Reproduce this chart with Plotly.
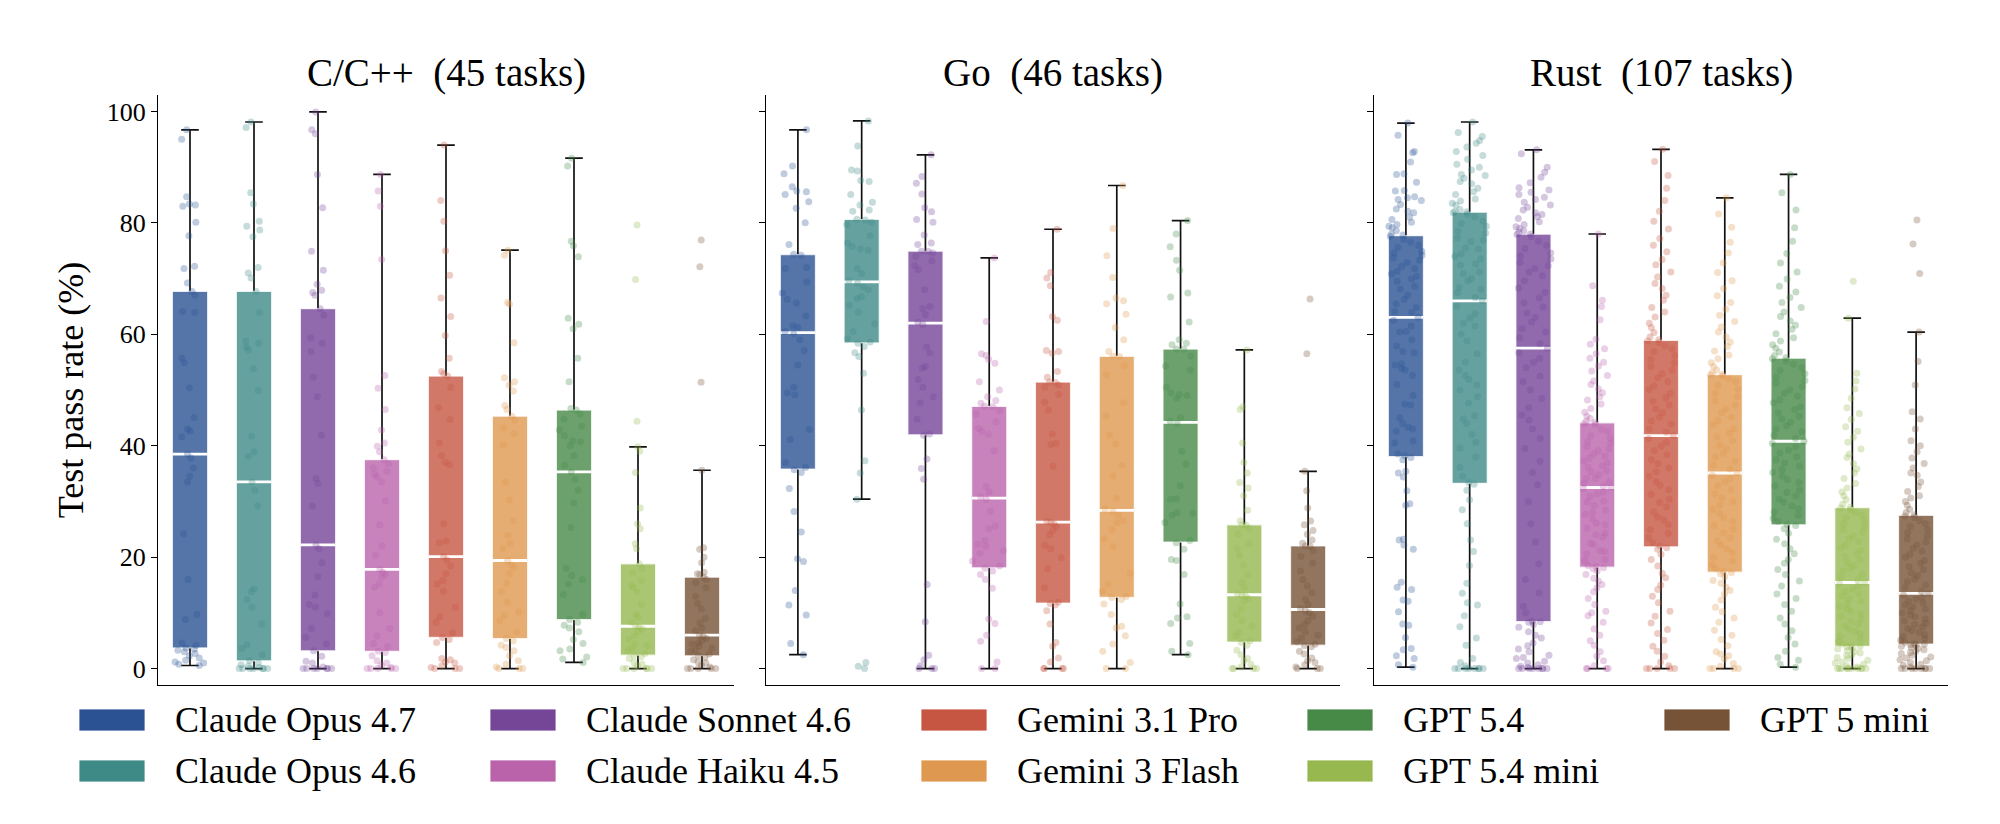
import numpy as np
import plotly.graph_objects as go

# ---------------- data ----------------
models = ["Claude Opus 4.7", "Claude Opus 4.6", "Claude Sonnet 4.6", "Claude Haiku 4.5",
          "Gemini 3.1 Pro", "Gemini 3 Flash", "GPT 5.4", "GPT 5.4 mini", "GPT 5 mini"]
colors = ["#2B5393", "#3E8A87", "#754598", "#BA63AB", "#C65642",
          "#DE984F", "#478A48", "#96B84F", "#765337"]
languages = ["C/C++", "Go", "Rust"]
task_counts = [45, 46, 107]
y_ticks = [0, 20, 40, 60, 80, 100]

# per-task test pass rates (%), C/C++ (45 tasks)
cpp_opus47 = [0.55, 0.8, 1.0, 1.2, 1.5, 1.9, 2.3, 2.7, 3.0, 3.3, 3.5, 3.7,
              4.2, 4.6, 8.8, 9.7, 16.0, 24.2, 33.5, 34.5, 36.0, 37.8, 38.5,
              41.6, 42.6, 43.0, 45.0, 50.4, 54.9, 55.7, 63.9, 64.1, 67.0, 67.7,
              69.2, 71.8, 72.2, 77.7, 80.1, 83.0, 83.2, 83.4, 84.7, 95.0, 96.7]
cpp_opus46 = [0, 0, 0, 0, 0, 0, 0, 0.2, 0.4, 0.7, 1.0, 1.4,
              2.5, 3.6, 4.3, 8.0, 11.0, 12.4, 13.8, 14.3, 29.2, 32.0, 33.5,
              38.1, 38.9, 41.7, 49.9, 53.8, 57.2, 57.7, 58.4, 58.8, 63.9, 67.7,
              70.1, 71.0, 72.0, 77.5, 78.7, 79.4, 80.3, 83.4, 85.4, 97.1, 98.1]
cpp_sonnet46 = [0, 0, 0, 0, 0, 0, 0, 0.3, 1.0, 1.3, 2.2, 3.2,
                4.4, 5.6, 7.2, 9.9, 11.0, 11.5, 13.2, 16.5, 19.0, 21.5, 22.2,
                29.2, 33.2, 34.1, 41.9, 48.8, 52.3, 56.9, 58.4, 59.4, 63.4, 64.6,
                67.0, 67.5, 67.9, 69.0, 71.5, 74.9, 82.7, 88.7, 96.0, 96.7, 99.9]
cpp_haiku45 = [0, 0, 0, 0, 0, 0.2, 0.6, 1.0, 1.4, 2.3, 2.9, 3.1,
               4.0, 4.5, 5.9, 7.2, 10.0, 14.6, 15.2, 16.4, 16.9, 17.3, 17.8,
               20.3, 22.0, 25.8, 30.1, 33.5, 34.4, 34.9, 35.4, 36.0, 36.8, 37.5,
               38.9, 39.9, 40.5, 42.8, 46.5, 50.3, 52.6, 73.4, 83.0, 85.7, 88.7]
cpp_gem31pro = [0, 0, 0, 0.2, 0.5, 1.0, 1.2, 1.6, 1.8, 4.7, 5.2, 5.6,
                6.4, 8.3, 9.3, 11.0, 13.9, 15.2, 15.8, 17.0, 18.4, 19.5, 20.1,
                22.6, 22.9, 26.0, 36.6, 37.0, 38.2, 40.5, 44.7, 46.8, 50.5, 52.5,
                52.9, 53.3, 55.7, 59.8, 63.2, 66.5, 70.6, 75.0, 80.3, 84.0, 93.95]
cpp_gem3flash = [0, 0, 0, 0.3, 0.8, 1.4, 2.3, 3.2, 3.8, 4.2, 5.0, 5.4,
                 6.6, 8.6, 9.5, 10.1, 12.0, 13.8, 15.3, 17.0, 18.2, 18.6, 19.4,
                 21.5, 22.4, 23.9, 26.6, 30.3, 33.5, 40.1, 42.2, 43.2, 44.6, 45.3,
                 46.5, 47.2, 49.8, 50.9, 51.5, 52.2, 58.5, 65.4, 65.7, 74.2, 75.1]
cpp_gpt54 = [1.1, 1.7, 2.1, 3.2, 3.5, 4.5, 5.2, 6.6, 7.3, 7.8, 8.3, 8.8,
             9.7, 13.3, 15.2, 16.0, 16.7, 18.0, 25.3, 29.7, 32.0, 34.0, 35.3,
             36.5, 38.2, 40.0, 40.7, 40.9, 41.8, 42.8, 43.5, 44.8, 45.7, 46.4,
             46.7, 51.5, 55.7, 61.0, 61.8, 62.9, 73.9, 75.9, 76.7, 90.2, 91.6]
cpp_gpt54mini = [0, 0, 0, 0, 0, 0, 0.5, 0.8, 1.2, 1.8, 2.1, 2.4,
                 2.7, 3.2, 3.8, 4.1, 4.4, 5.2, 5.9, 6.6, 7.1, 7.4, 7.6,
                 8.3, 9.3, 9.7, 11.5, 13.8, 14.5, 15.0, 15.8, 17.2, 17.9, 18.8,
                 21.5, 22.4, 25.1, 26.0, 28.8, 35.2, 39.0, 39.8, 44.4, 69.85, 79.6]
cpp_gpt5mini = [0, 0, 0, 0, 0, 0.3, 0.6, 1.0, 1.2, 1.6, 2.0, 2.3,
                2.6, 3.0, 3.3, 3.7, 4.0, 4.4, 4.6, 5.0, 5.4, 5.8, 6.0,
                6.8, 7.3, 8.2, 9.0, 10.7, 11.7, 13.0, 14.5, 15.4, 16.0, 16.4,
                16.9, 17.0, 17.3, 19.0, 20.0, 21.4, 21.7, 35.6, 51.4, 72.1, 76.9]

# Go (46 tasks)
go_opus47 = [2.5, 4.5, 9.6, 11.4, 14.0, 19.2, 19.7, 24.5, 28.2, 32.3, 35.2,
             35.7, 36.1,
             37.0, 41.1, 42.9, 49.1, 49.5, 50.5, 54.5, 57.1, 59.0,
             60.1, 60.5,
             61.2, 61.5, 63.3, 65.6, 66.3, 67.4, 69.4, 71.8, 72.0,
             74.2, 74.35,
             76.1, 80.0, 82.6, 83.8, 85.1, 85.6, 85.7, 86.5, 88.8, 90.2, 96.7]
go_opus46 = [0, 0.4, 1.1, 30.4, 35.1, 37.3, 46.4, 53.0, 56.0, 56.7, 57.8,
             58.4, 58.6,
             59.2, 60.5, 61.9, 64.0, 65.2, 66.4, 66.8, 68.0, 68.5,
             69.2, 69.6,
             70.9, 71.8, 75.1, 75.3, 75.8, 76.4, 77.7, 79.7, 80.1,
             80.5, 80.63,
             82.1, 82.3, 83.2, 83.7, 85.1, 87.4, 87.6, 89.3, 89.5, 93.8, 98.3]
go_sonnet46 = [0, 0, 0, 0.5, 1.6, 2.4, 8.4, 15.1, 34.0, 35.9, 37.6,
               41.9, 42.1,
               44.8, 47.7, 48.8, 50.5, 51.9, 53.9, 54.2, 56.7, 57.7,
               61.8, 62.2,
               63.5, 64.6, 65.0, 68.0, 71.6, 72.3, 73.2, 73.9, 74.6,
               74.85, 74.92,
               76.1, 76.4, 77.8, 80.1, 80.6, 82.0, 82.7, 85.2, 87.1, 88.3, 92.2]
go_haiku45 = [0, 0, 1.2, 4.9, 6.0, 8.1, 8.9, 14.4, 16.0, 16.9, 17.5,
              18.0, 18.4,
              19.3, 20.7, 21.2, 21.9, 22.3, 23.0, 25.1, 25.6, 28.2,
              30.4, 30.8,
              31.7, 32.7, 39.1, 42.0, 42.6, 43.1, 44.3, 45.7, 46.3,
              47.0, 47.07,
              47.6, 48.1, 48.8, 50.0, 51.5, 54.8, 55.5, 56.2, 56.5, 62.3, 73.7]
go_gem31pro = [0, 0, 0, 0, 1.2, 1.9, 4.0, 4.7, 8.0, 10.4, 11.4,
               11.7, 11.9,
               14.5, 17.9, 19.9, 21.5, 22.1, 24.0, 24.8, 25.5, 26.0,
               26.2, 26.4,
               36.3, 40.2, 40.4, 42.1, 46.4, 47.8, 49.2, 50.5, 50.9,
               51.35, 51.45,
               52.3, 53.3, 56.6, 56.9, 57.1, 62.5, 63.2, 68.7, 70.1, 71.1, 78.85]
go_gem3flash = [0, 0, 1.1, 3.1, 4.4, 5.9, 7.3, 7.6, 9.7, 11.6, 12.4,
                12.75, 12.95,
                13.9, 15.2, 17.1, 21.9, 23.3, 24.9, 26.2, 26.5, 27.5,
                28.2, 28.6,
                30.6, 34.6, 36.5, 40.3, 41.9, 45.3, 47.7, 52.7, 54.3,
                56.0, 56.07,
                56.9, 59.0, 61.2, 63.6, 65.5, 66.0, 66.5, 70.2, 74.1, 79.0, 86.7]
go_gpt54 = [2.5, 3.1, 4.5, 8.1, 9.1, 9.3, 11.6, 16.9, 19.4, 19.6, 21.4,
            22.6, 23.0,
            26.2, 27.5, 27.9, 28.0, 30.4, 30.5, 32.8, 36.7, 39.0,
            44.0, 44.4,
            45.0, 48.5, 49.0, 49.2, 49.5, 50.5, 53.6, 54.3, 56.1,
            57.3, 57.37,
            58.1, 58.4, 59.0, 62.2, 66.7, 67.4, 71.5, 73.3, 75.7, 78.0, 80.4]
go_gpt54mini = [0, 0, 0, 0, 0.3, 0.8, 1.4, 1.8, 2.5, 3.3, 4.2,
                4.7, 5.0,
                5.9, 6.5, 7.6, 8.6, 9.7, 10.7, 12.1, 12.6, 13.0,
                13.1, 13.4,
                14.5, 15.5, 16.8, 18.6, 20.3, 21.5, 22.4, 24.1, 25.2,
                25.75, 25.82,
                26.5, 28.4, 31.0, 32.4, 33.4, 35.1, 37.0, 40.5, 46.5, 47.0, 57.2]
go_gpt5mini = [0, 0, 0, 0.3, 0.7, 1.1, 1.4, 1.9, 2.6, 3.1, 3.9,
               4.15, 4.35,
               4.8, 5.5, 6.0, 6.6, 7.3, 7.9, 8.6, 9.4, 10.0,
               10.4, 10.8,
               11.5, 12.4, 13.6, 14.8, 16.0, 17.5, 18.9, 20.1, 21.2,
               21.95, 22.02,
               22.5, 23.1, 24.1, 24.8, 25.8, 26.5, 28.8, 31.9, 35.4, 56.5, 66.35]

# Rust (107 tasks)
rust_opus47 = [0.25, 0.7, 1.8, 2.3, 3.4, 3.6, 5.6, 7.8, 8.0, 10.2, 12.1, 12.3, 14.2,
               14.6, 15.5, 21.4, 22.2, 23.1, 23.2, 29.3, 29.6, 31.9, 34.4, 35.1, 35.4, 37.5,
               37.9, 38.2,
               38.5, 40.5, 40.9, 42.6, 43.0, 43.3, 44.0, 45.0, 47.3, 47.5, 49.0, 51.0, 52.6,
               53.6, 53.9, 54.5, 54.7, 56.7, 56.9, 57.9, 59.0, 60.4, 60.5, 61.5, 62.5,
               63.05,
               63.9, 64.1, 64.8, 65.5, 66.3, 67.0, 68.1, 68.6, 69.5, 69.9, 70.4, 70.8, 71.3,
               71.8, 72.2, 72.9, 73.3, 73.7, 74.2, 74.6, 74.9, 75.6, 76.0, 76.5, 77.0,
               77.6, 77.8,
               78.0, 78.6, 79.1, 79.4, 79.7, 80.1, 80.6, 81.0, 81.8, 82.1, 82.5, 83.3, 84.0,
               84.2, 84.5, 84.7, 85.7, 85.8, 87.3, 88.7, 88.8, 90.9, 92.6, 92.8, 95.7, 97.9]
rust_opus46 = [0, 0, 0, 0, 0, 0, 0, 0, 0.5, 1.1, 1.8, 4.2, 5.5,
               7.5, 9.5, 11.4, 11.8, 13.5, 15.3, 18.5, 21.0, 23.1, 26.0, 28.5, 30.3, 32.0,
               33.1, 33.4,
               34.5, 36.1, 38.0, 39.6, 40.6, 42.0, 44.0, 44.8, 45.4, 47.6, 48.8, 50.0, 50.9,
               51.9, 52.6, 53.6, 55.0, 56.5, 58.8, 60.0, 61.5, 62.0, 62.9, 63.7, 65.0,
               66.0,
               66.6, 67.5, 68.1, 68.4, 69.6, 70.0, 70.9, 71.2, 72.4, 72.6, 73.5, 74.0, 74.4,
               75.3, 75.5, 76.6, 76.9, 77.3, 78.2, 78.5, 79.4, 79.9, 80.3, 81.1, 81.6,
               81.8, 82.0,
               82.1, 82.4, 83.2, 83.5, 83.9, 84.3, 85.1, 85.6, 86.2, 87.0, 87.4, 88.0, 88.5,
               88.7, 89.5, 90.0, 90.5, 91.4, 92.1, 92.8, 93.6, 94.3, 94.8, 95.5, 96.2, 98.1]
rust_sonnet46 = [0, 0, 0, 0, 0, 0, 0, 0, 0.2, 0.4, 0.7, 1.0, 1.3,
                 1.8, 2.0, 2.4, 3.0, 3.5, 4.1, 4.6, 5.5, 6.0, 6.6, 7.4, 7.9, 8.3,
                 8.4, 8.5,
                 10.0, 11.2, 13.6, 16.0, 18.8, 22.7, 26.0, 30.0, 33.0, 35.2, 37.2, 39.5, 41.3,
                 43.0, 44.6, 45.5, 46.8, 48.5, 50.0, 51.5, 52.5, 54.0, 55.0, 55.7, 56.7,
                 57.5,
                 58.3, 59.4, 60.4, 61.0, 62.2, 63.0, 63.8, 64.9, 65.6, 66.5, 67.5, 68.3, 69.6,
                 70.5, 71.2, 71.8, 72.3, 72.9, 73.5, 74.1, 74.6, 75.4, 76.0, 76.7, 77.5,
                 77.9, 78.0,
                 78.3, 78.6, 79.0, 79.3, 79.7, 80.2, 80.8, 81.1, 81.5, 81.8, 82.3, 82.8, 83.2,
                 83.7, 84.2, 84.6, 85.1, 85.5, 85.9, 86.3, 87.2, 88.2, 89.1, 90.0, 92.4, 93.1]
rust_haiku45 = [0, 0, 0, 0, 0.5, 1.4, 2.2, 3.0, 4.2, 5.0, 6.0, 7.1, 8.3,
                9.5, 10.0, 10.3, 11.5, 12.6, 13.8, 14.5, 15.1, 15.7, 16.2, 16.9, 17.5, 17.9,
                18.1, 18.3,
                18.5, 19.4, 19.6, 20.5, 21.0, 21.2, 22.3, 22.5, 23.6, 24.0, 24.3, 25.2, 25.8,
                26.1, 26.9, 27.7, 28.1, 28.4, 29.3, 29.9, 30.1, 30.9, 31.4, 31.7, 32.3,
                32.5,
                32.7, 33.2, 33.5, 34.1, 34.2, 34.8, 35.3, 35.5, 36.2, 36.4, 36.9, 37.3, 37.8,
                38.1, 38.5, 39.1, 39.4, 39.8, 40.5, 40.7, 41.4, 41.8, 42.6, 42.9, 43.8,
                44.0, 44.2,
                44.4, 44.9, 45.3, 46.0, 46.7, 47.5, 48.2, 48.8, 49.5, 50.2, 51.0, 51.6, 52.6,
                53.4, 54.3, 55.0, 55.7, 56.5, 57.4, 58.2, 59.1, 62.6, 65.0, 66.1, 68.7, 78.0]
rust_gem31pro = [0, 0, 0, 0, 0, 0.5, 1.2, 2.2, 3.1, 4.0, 5.1, 6.3, 7.0,
                 8.2, 9.4, 10.3, 11.8, 13.0, 14.2, 15.0, 16.3, 17.1, 18.4, 19.6, 20.5, 21.4,
                 21.7, 22.0,
                 22.6, 23.5, 24.3, 24.9, 25.8, 26.7, 27.2, 28.1, 29.0, 29.8, 30.4, 31.3, 32.1,
                 32.9, 33.6, 34.5, 35.3, 36.0, 36.8, 37.5, 38.4, 39.1, 39.9, 40.6, 41.3,
                 41.8,
                 42.4, 43.0, 43.9, 44.5, 45.1, 45.9, 46.6, 47.3, 48.0, 48.6, 49.4, 50.1, 50.7,
                 51.5, 52.2, 52.9, 53.6, 54.2, 54.9, 55.5, 56.2, 56.9, 57.4, 57.9, 58.5,
                 58.8, 59.0,
                 59.5, 60.3, 61.2, 62.0, 63.1, 64.0, 64.8, 66.1, 67.0, 68.2, 69.1, 70.3, 71.2,
                 72.5, 73.4, 74.8, 76.0, 77.2, 78.9, 80.3, 82.1, 84.0, 86.2, 88.5, 91.0, 93.2]
rust_gem3flash = [0, 0, 0, 0, 0.4, 0.9, 1.7, 2.3, 2.6, 3.0, 4.1, 5.2, 6.0,
                  6.9, 8.3, 9.1, 10.2, 11.0, 12.3, 13.4, 14.0, 14.6, 15.3, 15.8, 16.5, 17.0,
                  17.2, 17.4,
                  17.9, 18.6, 19.3, 20.0, 20.8, 21.4, 22.2, 22.9, 23.5, 24.4, 25.0, 25.7, 26.4,
                  27.1, 27.9, 28.5, 29.3, 30.0, 30.6, 31.4, 32.1, 32.8, 33.5, 34.1, 34.7,
                  35.1,
                  35.8, 36.5, 37.2, 38.0, 38.6, 39.4, 40.1, 40.9, 41.5, 42.3, 43.0, 43.7, 44.5,
                  45.1, 45.9, 46.6, 47.3, 48.0, 48.8, 49.4, 50.1, 50.8, 51.5, 52.0, 52.5,
                  52.7, 52.8,
                  53.1, 53.6, 54.2, 54.9, 55.6, 56.3, 57.0, 57.8, 58.6, 59.5, 60.4, 61.3, 62.3,
                  63.4, 64.5, 65.7, 66.9, 68.2, 69.6, 71.1, 72.8, 74.6, 76.5, 79.2, 81.6, 84.5]
rust_gpt54 = [0.25, 0.8, 1.5, 2.0, 3.1, 4.4, 5.6, 6.8, 8.0, 9.1, 10.3, 11.5, 12.6,
              13.4, 14.8, 15.7, 16.9, 17.8, 18.9, 19.6, 20.6, 21.5, 22.4, 23.2, 24.3, 25.1,
              25.7, 25.9,
              26.4, 27.0, 27.5, 28.1, 28.7, 29.2, 29.9, 30.4, 31.0, 31.6, 32.1, 32.8, 33.4,
              33.9, 34.5, 35.2, 35.7, 36.3, 36.9, 37.5, 38.0, 38.7, 39.2, 39.8, 40.4,
              40.8,
              41.3, 41.9, 42.5, 43.0, 43.6, 44.2, 44.8, 45.3, 45.9, 46.5, 47.0, 47.7, 48.2,
              48.9, 49.4, 50.0, 50.6, 51.2, 51.7, 52.3, 52.9, 53.5, 54.0, 54.6, 55.2,
              55.6, 55.8,
              56.2, 56.8, 57.5, 58.1, 58.8, 59.4, 60.1, 60.9, 61.6, 62.4, 63.2, 64.0, 64.8,
              65.7, 66.6, 67.6, 68.6, 69.9, 71.2, 72.8, 74.5, 76.7, 79.1, 82.3, 85.4, 88.7]
rust_gpt54mini = [0, 0, 0, 0, 0, 0, 0, 0, 0, 0, 0.3, 0.5, 0.8,
                  1.0, 1.2, 1.5, 1.8, 2.0, 2.3, 2.5, 2.8, 3.0, 3.2, 3.5, 3.7, 3.9,
                  3.95, 4.05,
                  4.4, 4.9, 5.3, 5.8, 6.2, 6.7, 7.1, 7.6, 8.0, 8.5, 8.9, 9.4, 9.8,
                  10.3, 10.7, 11.2, 11.6, 12.1, 12.5, 13.0, 13.4, 13.9, 14.3, 14.8, 15.2,
                  15.45,
                  15.9, 16.4, 16.9, 17.5, 18.0, 18.5, 19.0, 19.6, 20.1, 20.6, 21.2, 21.7, 22.2,
                  22.8, 23.3, 23.8, 24.4, 24.9, 25.4, 26.0, 26.5, 27.0, 27.5, 28.0, 28.5,
                  28.8, 29.0,
                  29.5, 30.3, 31.0, 31.7, 32.4, 33.2, 34.1, 35.1, 35.8, 36.8, 37.9, 38.5, 39.4,
                  40.6, 41.5, 42.6, 43.4, 44.7, 45.8, 46.8, 48.5, 50.2, 51.6, 53.0, 62.9, 69.5]
rust_gpt5mini = [0, 0, 0, 0, 0, 0, 0, 0, 0.3, 0.6, 0.8, 1.1, 1.4,
                 1.6, 1.9, 2.1, 2.4, 2.7, 2.9, 3.1, 3.4, 3.6, 3.8, 4.0, 4.2, 4.3,
                 4.35, 4.45,
                 4.7, 5.1, 5.4, 5.8, 6.1, 6.5, 6.8, 7.2, 7.5, 7.9, 8.2, 8.6, 8.9,
                 9.3, 9.6, 10.0, 10.4, 10.7, 11.1, 11.4, 11.8, 12.1, 12.5, 12.8, 13.2,
                 13.5,
                 13.9, 14.5, 15.0, 15.6, 16.1, 16.7, 17.2, 17.8, 18.3, 18.9, 19.4, 20.0, 20.5,
                 21.1, 21.6, 22.2, 22.7, 23.3, 23.8, 24.4, 24.9, 25.5, 26.0, 26.6, 27.1,
                 27.4, 27.6,
                 28.0, 28.6, 29.3, 30.0, 30.6, 31.0, 31.8, 32.7, 33.5, 34.7, 35.1, 36.0, 36.8,
                 37.8, 38.9, 40.0, 40.9, 43.0, 44.8, 46.1, 50.9, 55.1, 60.4, 70.9, 76.2, 80.5]

pass_rates = {
    "C/C++": [cpp_opus47, cpp_opus46, cpp_sonnet46, cpp_haiku45, cpp_gem31pro,
              cpp_gem3flash, cpp_gpt54, cpp_gpt54mini, cpp_gpt5mini],
    "Go": [go_opus47, go_opus46, go_sonnet46, go_haiku45, go_gem31pro,
           go_gem3flash, go_gpt54, go_gpt54mini, go_gpt5mini],
    "Rust": [rust_opus47, rust_opus46, rust_sonnet46, rust_haiku45, rust_gem31pro,
             rust_gem3flash, rust_gpt54, rust_gpt54mini, rust_gpt5mini],
}

for lang, n in zip(languages, task_counts):
    for m, vals in zip(models, pass_rates[lang]):
        assert len(vals) == n, (lang, m, len(vals))

# ---------------- helpers ----------------
FONT = "Liberation Serif"
W, H = 2000, 824


def hex_rgb(h):
    h = h.lstrip("#")
    return tuple(int(h[i:i + 2], 16) for i in (0, 2, 4))


def blend(h, a):
    r, g, b = hex_rgb(h)
    return "rgb(%d,%d,%d)" % tuple(round(c * a + 255 * (1 - a)) for c in (r, g, b))


def box_stats(vals):
    a = np.sort(np.asarray(vals, dtype=float))
    q1, med, q3 = np.percentile(a, [25, 50, 75])
    iqr = q3 - q1
    lo = a[a >= q1 - 1.5 * iqr].min()
    hi = a[a <= q3 + 1.5 * iqr].max()
    return q1, med, q3, lo, hi


x_domains = [[158 / W, 734 / W], [766 / W, 1340 / W], [1374 / W, 1948 / W]]
y_domain = [1 - 685.3 / H, 1 - 94.7 / H]
BOXW = 0.55

fig = go.Figure()

for p, lang in enumerate(languages):
    xa = "x" if p == 0 else "x%d" % (p + 1)
    ya = "y" if p == 0 else "y%d" % (p + 1)
    for m, c, vals in zip(models, colors, pass_rates[lang]):
        q1, med, q3, lo, hi = box_stats(vals)
        common = dict(x=[m], xaxis=xa, yaxis=ya, showlegend=False,
                      hoverinfo="skip", width=BOXW, boxpoints=False)
        # whiskers with caps (black)
        fig.add_trace(go.Box(q1=[med], median=[med], q3=[med],
                             lowerfence=[lo], upperfence=[hi],
                             whiskerwidth=0.5, fillcolor="rgba(0,0,0,0)",
                             line=dict(color="#111111", width=1.7), **common))
        # interquartile box
        fig.add_trace(go.Box(q1=[q1], median=[med], q3=[q3],
                             lowerfence=[q1], upperfence=[q3],
                             whiskerwidth=0, fillcolor=blend(c, 0.8),
                             line=dict(color="rgba(255,255,255,0.75)", width=1.2), **common))
        # median line (white)
        fig.add_trace(go.Box(q1=[med], median=[med], q3=[med],
                             lowerfence=[med], upperfence=[med],
                             whiskerwidth=0, fillcolor="rgba(0,0,0,0)",
                             line=dict(color="white", width=2.8), **common))
        # jittered task points
        fig.add_trace(go.Box(x=[m] * len(vals), y=vals, xaxis=xa, yaxis=ya,
                             showlegend=False, width=BOXW, boxpoints="all",
                             jitter=1.0, pointpos=0, whiskerwidth=0,
                             fillcolor="rgba(0,0,0,0)", line=dict(width=0, color="rgba(0,0,0,0)"),
                             marker=dict(color=c, opacity=0.3, size=7, line=dict(width=0)),
                             hoveron="points", name=m))

axis_common_x = dict(showticklabels=False, ticks="", showline=True, linecolor="black",
                     linewidth=1.3, showgrid=False, zeroline=False, range=[-0.5, 8.5],
                     categoryorder="array", categoryarray=models, fixedrange=True)
axis_common_y = dict(range=[-3, 103], tickvals=y_ticks, ticks="outside", ticklen=6,
                     tickwidth=1.3, tickcolor="black", showline=True, linecolor="black",
                     linewidth=1.3, showgrid=False, zeroline=False, domain=y_domain,
                     fixedrange=True, automargin=False,
                     tickfont=dict(family=FONT, size=26, color="black"))

layout = dict(
    width=W, height=H, margin=dict(l=0, r=0, t=0, b=0, pad=0),
    paper_bgcolor="white", plot_bgcolor="white", boxmode="overlay",
    font=dict(family=FONT, color="black"), showlegend=False,
)
for p in range(3):
    sx = "" if p == 0 else str(p + 1)
    layout["xaxis" + sx] = dict(axis_common_x, domain=x_domains[p], anchor="y" + sx)
    ydict = dict(axis_common_y, anchor="x" + sx)
    if p > 0:
        ydict["showticklabels"] = False
    else:
        ydict["title"] = dict(text="Test pass rate (%)", font=dict(family=FONT, size=36),
                              standoff=12)
    layout["yaxis" + sx] = ydict
fig.update_layout(**layout)

# subplot titles
for p, (lang, n) in enumerate(zip(languages, task_counts)):
    fig.add_annotation(text="%s\u00a0 (%d tasks)" % (lang, n), xref="paper", yref="paper",
                       x=sum(x_domains[p]) / 2, y=1 - 73 / H, xanchor="center",
                       yanchor="middle", showarrow=False,
                       font=dict(family=FONT, size=39, color="black"))

# legend (matplotlib-style, 5 columns x 2 rows)
legend_cols = [[0, 1], [2, 3], [4, 5], [6, 7], [8]]
col_swatch_x = [79, 490, 921, 1307, 1664]
row_y = [720, 771]
SW, SH, GAP = 66, 22, 28
for ci, items in enumerate(legend_cols):
    for ri, k in enumerate(items):
        x0 = col_swatch_x[ci]
        cy = row_y[ri]
        fig.add_shape(type="rect", xref="paper", yref="paper",
                      x0=x0 / W, x1=(x0 + SW) / W,
                      y0=1 - (cy + SH / 2) / H, y1=1 - (cy - SH / 2) / H,
                      fillcolor=colors[k], line=dict(color="rgba(255,255,255,0.8)", width=1))
        fig.add_annotation(text=models[k], xref="paper", yref="paper",
                           x=(x0 + SW + GAP) / W, y=1 - cy / H, xanchor="left",
                           yanchor="middle", showarrow=False,
                           font=dict(family=FONT, size=36, color="black"))

fig.write_html("out.html", config={"displayModeBar": False},
               post_script="document.body.style.margin='0';document.body.style.overflow='hidden';")
